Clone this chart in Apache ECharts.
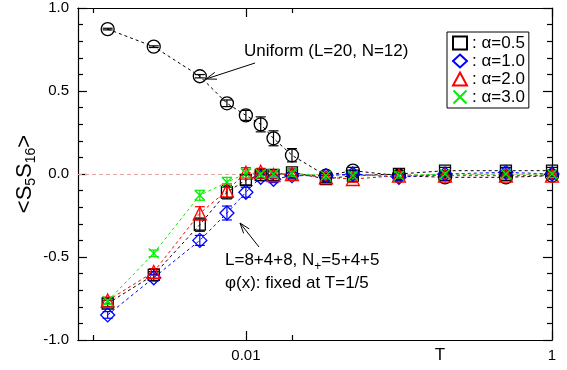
<!DOCTYPE html>
<html>
<head>
<meta charset="utf-8">
<script src="https://cdn.jsdelivr.net/npm/echarts@6/dist/echarts.min.js"></script>
<style>
  html, body { margin: 0; padding: 0; background: #ffffff; }
  #chart { width: 567px; height: 370px; }
</style>
</head>
<body>
<div id="chart"></div>
<script>
// Temperatures (log axis) and the correlation <S5 S16> for each run
const temperatures = [1/800, 1/400, 1/200, 1/133, 1/100, 1/80, 1/66, 1/50, 1/30, 1/20, 1/10, 1/5, 1/2, 1];

const uniform    = [0.873, 0.767, 0.589, 0.426, 0.353, 0.299, 0.215, 0.113, -0.01, 0.02, -0.01, -0.02, -0.02, -0.01];
const uniformErr = [0.005, 0.005, 0.01, 0.02, 0.03, 0.045, 0.045, 0.04, 0.02, 0.02, 0.02, 0.02, 0.02, 0.02];

const alpha05    = [-0.78, -0.608, -0.305, -0.11, -0.036, -0.006, -0.006, 0.01, -0.03, -0.01, 0.0, 0.02, 0.02, 0.02];
const alpha05Err = [0.02, 0.02, 0.04, 0.04, 0.03, 0.02, 0.02, 0.02, 0.02, 0.02, 0.02, 0.02, 0.02, 0.02];

const alpha10    = [-0.849, -0.625, -0.4, -0.235, -0.11, -0.02, -0.032, -0.01, -0.01, 0.0, -0.02, 0.0, 0.01, 0.0];
const alpha10Err = [0.02, 0.02, 0.03, 0.042, 0.03, 0.02, 0.02, 0.02, 0.02, 0.02, 0.02, 0.02, 0.02, 0.02];

const alpha20    = [-0.762, -0.59, -0.237, -0.1, 0.008, 0.014, -0.006, 0.0, -0.02, -0.03, -0.01, -0.01, -0.01, -0.01];
const alpha20Err = [0.02, 0.02, 0.04, 0.04, 0.03, 0.02, 0.02, 0.02, 0.02, 0.02, 0.02, 0.02, 0.02, 0.02];

const alpha30    = [-0.765, -0.478, -0.128, -0.05, 0.004, 0.0, 0.0, 0.004, -0.01, -0.01, -0.01, 0.0, 0.0, 0.0];
const alpha30Err = [0.02, 0.02, 0.03, 0.03, 0.025, 0.02, 0.02, 0.02, 0.02, 0.02, 0.02, 0.02, 0.02, 0.02];

const seriesNames = [': \u03b1=0.5', ': \u03b1=1.0', ': \u03b1=2.0', ': \u03b1=3.0'];

// Axis ranges and ticks
const xRange = [0.0008, 1];
const xMajorTicks = [0.01, 1];
const xTickLabels = ['0.01', '1'];
const xMinorTicks = [0.001, 0.02];
const yRange = [-1, 1];
const yTickLabels = ['-1.0', '-0.5', '0.0', '0.5', '1.0'];

const FONT = 'Liberation Sans, Arial, Helvetica, sans-serif';
const lg = Math.log10;

function pairs(values) {
  return temperatures.map((t, i) => [lg(t), values[i]]);
}
function errRows(values, errs) {
  return temperatures.map((t, i) => [lg(t), values[i], errs[i]]);
}

const xMin = lg(xRange[0]);
const xMax = lg(xRange[1]);

function xAxisDef(position, ticks, len, withLabels) {
  return {
    type: 'value', position: position, min: xMin, max: xMax,
    axisLine: { show: true, onZero: false, lineStyle: { color: '#000', width: 1.2 } },
    axisTick: { show: true, inside: true, length: len, customValues: ticks.map(lg),
                lineStyle: { color: '#000', width: 1.2 } },
    axisLabel: withLabels ? {
      show: true, customValues: xMajorTicks.map(lg), color: '#000', fontSize: 15,
      fontFamily: FONT, margin: 8,
      formatter: v => {
        const i = xMajorTicks.findIndex(t => Math.abs(lg(t) - v) < 1e-6);
        return i >= 0 ? xTickLabels[i] : '';
      }
    } : { show: false },
    splitLine: { show: false }
  };
}

function yAxisDef(position, withLabels) {
  return {
    type: 'value', position: position, min: yRange[0], max: yRange[1], interval: 0.5,
    axisLine: { show: true, onZero: false, lineStyle: { color: '#000', width: 1.2 } },
    axisTick: { show: true, inside: true, length: 9, lineStyle: { color: '#000', width: 1.2 } },
    minorTick: { show: true, splitNumber: 5, length: 5, lineStyle: { color: '#000', width: 1.2 } },
    axisLabel: withLabels ? {
      show: true, color: '#000', fontSize: 15, fontFamily: FONT, margin: 9,
      formatter: v => yTickLabels[Math.round((v - yRange[0]) / 0.5)]
    } : { show: false },
    splitLine: { show: false }
  };
}

const bottomAxis = xAxisDef('bottom', xMajorTicks, 9, true);
bottomAxis.name = 'T';
bottomAxis.nameLocation = 'middle';
bottomAxis.nameGap = 7;
bottomAxis.nameMoveOverlap = false;
bottomAxis.nameTextStyle = { fontSize: 17, fontFamily: FONT, color: '#000', verticalAlign: 'top',
                             padding: [0, 0, 0, 250] };

const leftAxis = yAxisDef('left', true);
leftAxis.name = '{m|<S}{s|5}{m|S}{s|16}{m|>}';
leftAxis.nameLocation = 'middle';
leftAxis.nameRotate = 90;
leftAxis.nameGap = 40;
leftAxis.nameMoveOverlap = false;
leftAxis.nameTextStyle = {
  color: '#000', fontFamily: FONT,
  rich: {
    m: { fontSize: 22, fontFamily: FONT, color: '#000' },
    s: { fontSize: 14, fontFamily: FONT, color: '#000', padding: [12, 0, 0, 0] }
  }
};

const symX = 'path://M0,0L10,10M0,10L10,0';

function dataSeries(name, values, color, symbol, size) {
  return {
    name: name, type: 'line', data: pairs(values),
    xAxisIndex: 0, yAxisIndex: 0,
    symbol: symbol, symbolSize: size, showSymbol: true,
    lineStyle: { color: color, width: 1, type: [3, 3] },
    itemStyle: { color: 'rgba(0,0,0,0)', borderColor: color, borderWidth: 1.3 },
    emphasis: { disabled: true },
    z: 3
  };
}

function errorSeries(values, errs, color) {
  return {
    type: 'custom', data: errRows(values, errs), xAxisIndex: 0, yAxisIndex: 0,
    silent: true, z: 2,
    renderItem: (params, api) => {
      const x = api.value(0), y = api.value(1), e = api.value(2);
      const hi = api.coord([x, y + e]);
      const lo = api.coord([x, y - e]);
      const st = { stroke: color, lineWidth: 1.2 };
      return {
        type: 'group',
        children: [
          { type: 'line', shape: { x1: hi[0], y1: hi[1], x2: lo[0], y2: lo[1] }, style: st },
          { type: 'line', shape: { x1: hi[0] - 5, y1: hi[1], x2: hi[0] + 5, y2: hi[1] }, style: st },
          { type: 'line', shape: { x1: lo[0] - 5, y1: lo[1], x2: lo[0] + 5, y2: lo[1] }, style: st }
        ]
      };
    }
  };
}

const uniformSeries = dataSeries('Uniform', uniform, '#000000', 'circle', 13);
uniformSeries.markLine = {
  silent: true, symbol: 'none', label: { show: false },
  lineStyle: { color: '#e4a4a4', width: 1, type: [4, 3] },
  data: [{ yAxis: 0 }], z: 1
};

// Annotation arrow: a shaft from (x1,y1) with an open head at (x2,y2)
function arrow(x1, y1, x2, y2) {
  const a = Math.atan2(y1 - y2, x1 - x2);
  const L = 11, w = 0.33;
  return {
    type: 'group', silent: true,
    children: [
      { type: 'line', shape: { x1: x1, y1: y1, x2: x2, y2: y2 }, style: { stroke: '#000', lineWidth: 1 } },
      { type: 'polyline', shape: { points: [
          [x2 + L * Math.cos(a + w), y2 + L * Math.sin(a + w)],
          [x2, y2],
          [x2 + L * Math.cos(a - w), y2 + L * Math.sin(a - w)]
        ] }, style: { stroke: '#000', lineWidth: 1, fill: null } }
    ]
  };
}

const chart = echarts.init(document.getElementById('chart'), null, { renderer: 'canvas' });
chart.setOption({
  animation: false,
  backgroundColor: '#ffffff',
  textStyle: { fontFamily: FONT },
  grid: { left: 78, right: 15, top: 8, bottom: 30, containLabel: false, outerBoundsMode: 'none' },
  xAxis: [
    bottomAxis,
    xAxisDef('bottom', xMinorTicks, 5, false),
    xAxisDef('top', xMajorTicks, 9, false),
    xAxisDef('top', xMinorTicks, 5, false)
  ],
  yAxis: [leftAxis, yAxisDef('right', false)],
  legend: {
    orient: 'vertical', left: 447, top: 32,
    padding: [2, 4, 2, 5], itemGap: 0,
    itemWidth: 14, itemHeight: 13,
    borderColor: '#000', borderWidth: 1, borderRadius: 0,
    backgroundColor: '#fff',
    textStyle: { fontSize: 17, fontFamily: FONT, color: '#000', lineHeight: 18, padding: [0, 0, 0, 0] },
    selectedMode: false,
    data: [
      { name: seriesNames[0], icon: 'rect' },
      { name: seriesNames[1], icon: 'diamond' },
      { name: seriesNames[2], icon: 'triangle' },
      { name: seriesNames[3], icon: symX }
    ]
  },
  series: [
    errorSeries(uniform, uniformErr, '#000000'),
    errorSeries(alpha05, alpha05Err, '#000000'),
    errorSeries(alpha10, alpha10Err, '#0000ff'),
    errorSeries(alpha20, alpha20Err, '#ff0000'),
    errorSeries(alpha30, alpha30Err, '#00ee00'),
    uniformSeries,
    dataSeries(seriesNames[0], alpha05, '#000000', 'rect', 11),
    dataSeries(seriesNames[1], alpha10, '#0000ff', 'diamond', 14),
    dataSeries(seriesNames[2], alpha20, '#ff0000', 'triangle', 13),
    dataSeries(seriesNames[3], alpha30, '#00ee00', symX, 10)
  ],
  graphic: [
    {
      type: 'text', left: 244, top: 43, silent: true,
      style: { text: 'Uniform (L=20, N=12)', fontSize: 17, fontFamily: FONT, fill: '#000' }
    },
    arrow(255, 63, 206, 79),
    {
      type: 'text', left: 225, top: 252, silent: true,
      style: {
        text: '{m|L=8+4+8, N}{s|+}{m|=5+4+5}\n{m|\u03c6(x): fixed at T=1/5}',
        fontFamily: FONT, fill: '#000',
        rich: {
          m: { fontSize: 17, fontFamily: FONT, fill: '#000', lineHeight: 22 },
          s: { fontSize: 12, fontFamily: FONT, fill: '#000', padding: [12, 0, 0, 0] }
        }
      }
    },
    arrow(259, 247, 240, 223)
  ]
});
</script>
</body>
</html>
